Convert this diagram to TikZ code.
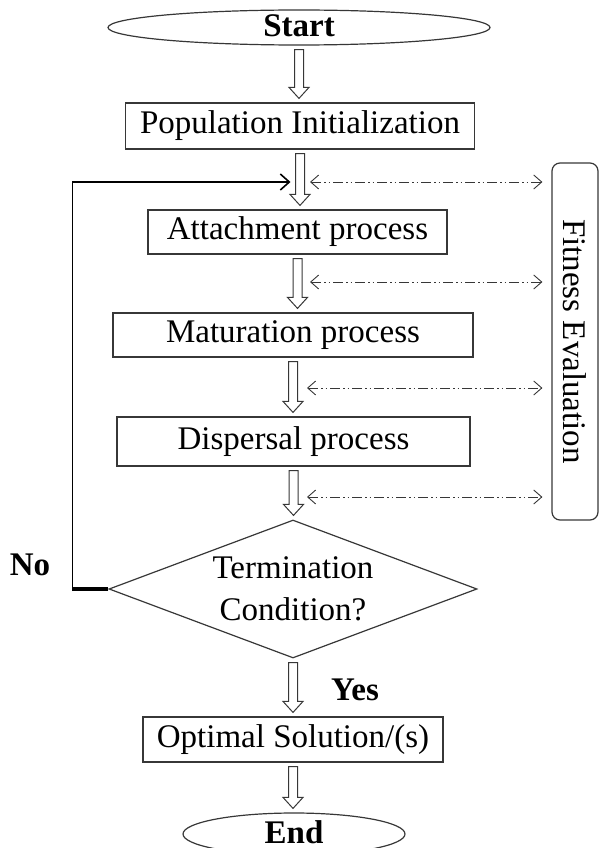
\documentclass[tikz,border=0pt]{standalone}
\usepackage{fontspec}
\setmainfont{Liberation Serif}
\usetikzlibrary{
  arrows.meta,
  positioning,
  calc,
  shapes.geometric
}
\definecolor{LineGray}{RGB}{55,55,55}
\newcommand{\chartfont}{\fontsize{33}{42}\selectfont}
% hollow block arrow from the bottom of one node to the top of the next
\newcommand{\blockarrow}[2]{%
  \draw[hollowarrow] let \p1=(#1.south), \p2=(#2.north) in
    (\x1-4.5pt,\y1-4pt) -- (\x1+4.5pt,\y1-4pt) -- (\x1+4.5pt,\y2+15pt)
    -- (\x1+10pt,\y2+15pt) -- (\x1,\y2+4pt) -- (\x1-10pt,\y2+15pt)
    -- (\x1-4.5pt,\y2+15pt) -- cycle;}
\tikzset{
  procbox/.style={
    draw=LineGray,
    fill=white,
    line width=1.2pt,
    minimum height=46pt,
    inner sep=0pt,
    font=\chartfont
  },
  termnode/.style={
    ellipse,
    draw=LineGray,
    fill=white,
    line width=1.2pt,
    inner sep=0pt,
    text height=21pt,
    text depth=2pt,
    font=\chartfont\bfseries
  },
  decision/.style={
    diamond,
    aspect=2.67,
    draw=LineGray,
    fill=white,
    line width=1.2pt,
    minimum width=368pt,
    minimum height=138pt,
    inner xsep=-10pt,
    inner ysep=-2pt,
    align=center,
    font=\chartfont
  },
  evalbox/.style={
    draw=LineGray,
    line width=1.2pt,
    rounded corners=8pt,
    minimum width=357pt,
    minimum height=46pt,
    rotate=-90,
    font=\chartfont
  },
  lbl/.style={font=\chartfont\bfseries},
  hollowarrow/.style={draw=LineGray,line width=1pt,fill=white},
  looparrow/.style={-{Straight Barb[length=9pt,width=16pt,line width=1.6pt]},line width=1.8pt,draw=black},
  fitarrow/.style={{Straight Barb[length=8pt,width=14pt]}-{Straight Barb[length=8pt,width=14pt]},
    line width=0.9pt,draw=LineGray,dash pattern=on 10pt off 3pt on 1.5pt off 3pt on 1.5pt off 3pt}
}

\begin{document}
\begin{tikzpicture}[x=1pt,y=-1pt]
  \useasboundingbox (0,0) rectangle (600,848);

  \node[termnode, minimum width=382pt, minimum height=35pt] (start) at (299,27.5) {Start};
  \node[procbox, minimum width=349pt] (init) at (300,126) {Population Initialization};
  \node[procbox, minimum width=299pt, minimum height=44pt] (attach) at (297.5,232) {Attachment process};
  \node[procbox, minimum width=360pt, minimum height=44pt] (mature) at (293,335) {Maturation process};
  \node[procbox, minimum width=353pt, minimum height=49pt] (disperse) at (293.5,441.5) {Dispersal process};
  \node[decision] (cond) at (293,589) {Termination\\Condition?};
  \node[procbox, minimum width=300pt, minimum height=45pt] (optimal) at (293,739.5) {Optimal Solution/(s)};
  \node[termnode, minimum width=222pt, minimum height=42pt] (stop) at (294,834) {End};
  \node[evalbox] (fitness) at (575,341.5) {Fitness Evaluation\hspace{22pt}};

  \node[lbl] (nolbl) at (30,565) {No};
  \node[lbl] (yeslbl) at (355,690) {Yes};

  \blockarrow{start}{init}
  \blockarrow{init}{attach}
  \blockarrow{attach}{mature}
  \blockarrow{mature}{disperse}
  \blockarrow{disperse}{cond}
  \blockarrow{cond}{optimal}
  \blockarrow{optimal}{stop}

  % loop back from the decision
  \coordinate (loopin) at (290.5,182);
  \draw[line width=4pt] (cond.west) -- ++(-36,0) coordinate (loopcorner);
  \draw[looparrow] ($(loopcorner)+(0,2)$) |- (loopin);

  % fitness evaluation links (rotated box: its left side is .south)
  \coordinate (fe1) at (310,182);
  \coordinate (fe2) at (310,282);
  \coordinate (fe3) at (307,388);
  \coordinate (fe4) at (307,497);
  \draw[fitarrow, shorten >=9pt] (fe1) -- (fe1 -| fitness.south);
  \draw[fitarrow, shorten >=9pt] (fe2) -- (fe2 -| fitness.south);
  \draw[fitarrow, shorten >=9pt] (fe3) -- (fe3 -| fitness.south);
  \draw[fitarrow, shorten >=9pt] (fe4) -- (fe4 -| fitness.south);
\end{tikzpicture}
\end{document}
